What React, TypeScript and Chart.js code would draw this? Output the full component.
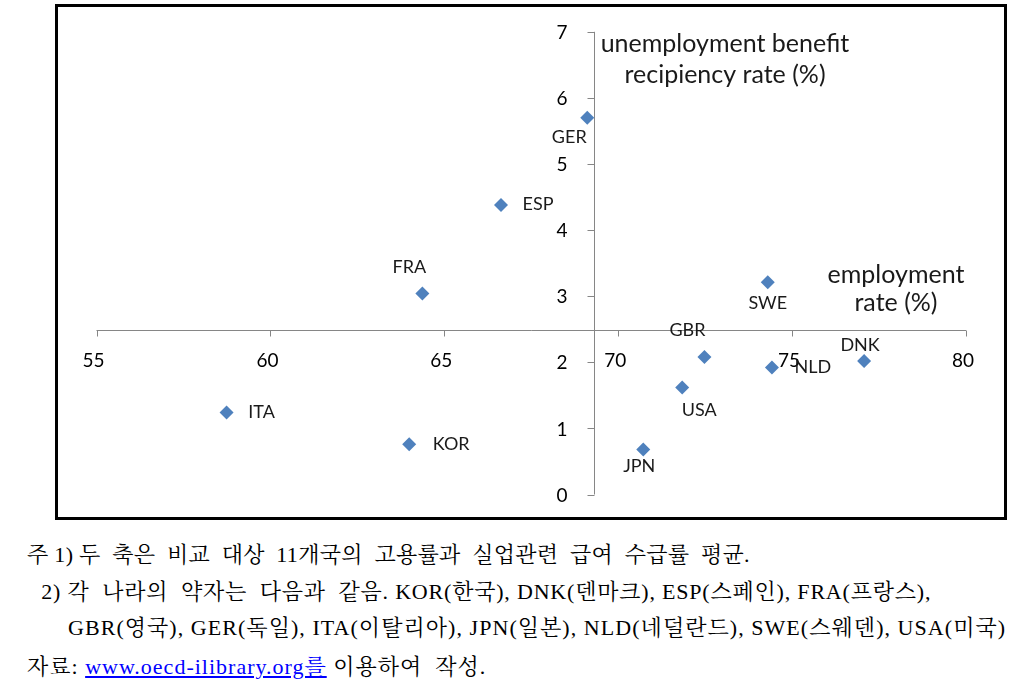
import React, { useEffect, useRef } from "react";
import { Chart, registerables } from "chart.js";

Chart.register(...registerables);

// ---- data ----
const COUNTRIES = ["GER", "ESP", "FRA", "ITA", "KOR", "JPN", "USA", "GBR", "NLD", "DNK", "SWE"];
const EMPLOYMENT = [69.11, 66.63, 64.37, 58.74, 63.99, 70.72, 71.84, 72.48, 74.42, 77.07, 74.3];
const BENEFIT = [5.7, 4.38, 3.04, 1.24, 0.76, 0.68, 1.62, 2.08, 1.92, 2.02, 3.21];
const X_TICKS = [55, 60, 65, 70, 75, 80];
const Y_TICKS = [0, 1, 2, 3, 4, 5, 6, 7];
const X_CROSS = 69.3; // vertical axis crosses the employment axis here
const Y_CROSS = 2.49; // horizontal axis crosses the benefit axis here
const Y_TITLE = ["unemployment benefit", "recipiency rate (%)"];
const X_TITLE = ["employment", "rate (%)"];
const NOTES = [
  "주 1) 두  축은  비교  대상  11개국의  고용률과  실업관련  급여  수급률  평균.",
  " 2) 각  나라의  약자는  다음과  같음. KOR(한국), DNK(덴마크), ESP(스페인), FRA(프랑스),",
  "GBR(영국), GER(독일), ITA(이탈리아), JPN(일본), NLD(네덜란드), SWE(스웨덴), USA(미국)",
];
const SOURCE_PREFIX = "자료: ";
const SOURCE_LINK = "www.oecd-ilibrary.org를";
const SOURCE_SUFFIX = " 이용하여  작성.";

// ---- styling / placement ----
const LABEL_OFFSETS: [number, number][] = [
  [-18, 19], [37, -1], [-13, -26], [35, 0], [42, 0], [-4, 17], [17, 23], [-17, -27], [41, 0], [-4, -16], [0, 21],
];
const AXIS_COLOR = "#868686";
const POINT_COLOR = "#4F81BD";
const FONT = "Lato, 'DejaVu Sans', sans-serif";

const crossAxes = {
  id: "crossAxes",
  beforeDatasetsDraw(chart: any) {
    const { ctx, scales } = chart;
    const xs = scales.x;
    const ys = scales.y;
    const axY = Math.round(ys.getPixelForValue(Y_CROSS)) + 0.5;
    const axX = Math.round(xs.getPixelForValue(X_CROSS)) + 0.5;
    ctx.save();
    ctx.strokeStyle = AXIS_COLOR;
    ctx.lineWidth = 1;
    ctx.beginPath();
    ctx.moveTo(xs.getPixelForValue(X_TICKS[0]), axY);
    ctx.lineTo(xs.getPixelForValue(X_TICKS[X_TICKS.length - 1]), axY);
    X_TICKS.forEach((t) => {
      const px = Math.round(xs.getPixelForValue(t)) + 0.5;
      ctx.moveTo(px, axY);
      ctx.lineTo(px, axY + 6);
    });
    ctx.moveTo(axX, ys.getPixelForValue(Y_TICKS[0]));
    ctx.lineTo(axX, ys.getPixelForValue(Y_TICKS[Y_TICKS.length - 1]));
    Y_TICKS.forEach((t) => {
      const py = Math.round(ys.getPixelForValue(t)) + 0.5;
      ctx.moveTo(axX - 7, py);
      ctx.lineTo(axX, py);
    });
    ctx.stroke();

    ctx.fillStyle = "#000";
    ctx.font = `19px ${FONT}`;
    ctx.textAlign = "center";
    ctx.textBaseline = "middle";
    X_TICKS.forEach((t) => {
      ctx.fillText(String(t), xs.getPixelForValue(t) - 3, axY + 30);
    });
    ctx.textAlign = "right";
    Y_TICKS.forEach((t) => {
      ctx.fillText(String(t), axX - 27, ys.getPixelForValue(t) + 1);
    });

    ctx.font = `25px ${FONT}`;
    ctx.textAlign = "center";
    ctx.fillStyle = "#1a1a1a";
    Y_TITLE.forEach((s, i) => ctx.fillText(s, 667, 37 + i * 31));
    X_TITLE.forEach((s, i) => ctx.fillText(s, 838, 268 + i * 28));
    ctx.restore();
  },
};

const pointLabels = {
  id: "pointLabels",
  afterDatasetsDraw(chart: any) {
    const { ctx } = chart;
    const meta = chart.getDatasetMeta(0);
    ctx.save();
    ctx.fillStyle = "#1a1a1a";
    ctx.font = `18px ${FONT}`;
    ctx.textAlign = "center";
    ctx.textBaseline = "middle";
    meta.data.forEach((pt: any, i: number) => {
      const [dx, dy] = LABEL_OFFSETS[i];
      ctx.fillText(COUNTRIES[i], pt.x + dx, pt.y + dy);
    });
    ctx.restore();
  },
};

export default function App() {
  const ref = useRef<HTMLCanvasElement>(null);
  useEffect(() => {
    document.body.style.margin = "0";
    const chart = new Chart(ref.current!, {
      type: "scatter",
      data: {
        datasets: [
          {
            data: EMPLOYMENT.map((x, i) => ({ x, y: BENEFIT[i] })),
            pointStyle: "rectRot",
            pointRadius: 7,
            backgroundColor: POINT_COLOR,
            borderColor: POINT_COLOR,
            borderWidth: 0,
          },
        ],
      },
      options: {
        responsive: false,
        animation: false,
        events: [],
        layout: { padding: { left: 38.5, right: 38, top: 24.8, bottom: 22.5 } },
        scales: {
          x: { type: "linear", min: 55, max: 80, display: false },
          y: { type: "linear", min: 0, max: 7, display: false },
        },
        plugins: { legend: { display: false }, tooltip: { enabled: false } },
      },
      plugins: [crossAxes, pointLabels],
    } as any);
    return () => chart.destroy();
  }, []);

  const noteFont = "'Liberation Serif', 'Noto Serif CJK KR', 'Noto Sans CJK KR', serif";
  const lineStyle = (top: number, left: number, spacing: number): React.CSSProperties => ({
    position: "absolute",
    top,
    left,
    fontFamily: noteFont,
    fontSize: 22,
    lineHeight: "22px",
    letterSpacing: spacing,
    whiteSpace: "pre",
    color: "#000",
  });

  return (
    <div style={{ position: "relative", width: 1021, height: 685, background: "#fff", overflow: "hidden" }}>
      <div
        style={{
          position: "absolute",
          left: 55,
          top: 4,
          width: 952,
          height: 516,
          border: "3px solid #000",
          boxSizing: "border-box",
        }}
      >
        <canvas ref={ref} width={946} height={510} style={{ display: "block" }} />
      </div>
      <div style={lineStyle(544, 27, 0.3)}>{NOTES[0]}</div>
      <div style={lineStyle(581, 35, 0.8)}>{NOTES[1]}</div>
      <div style={lineStyle(617, 68, 1.05)}>{NOTES[2]}</div>
      <div style={lineStyle(656, 27, 1)}>
        {SOURCE_PREFIX}
        <span style={{ color: "#0000ff", textDecoration: "underline" }}>{SOURCE_LINK}</span>
        {SOURCE_SUFFIX}
      </div>
    </div>
  );
}
